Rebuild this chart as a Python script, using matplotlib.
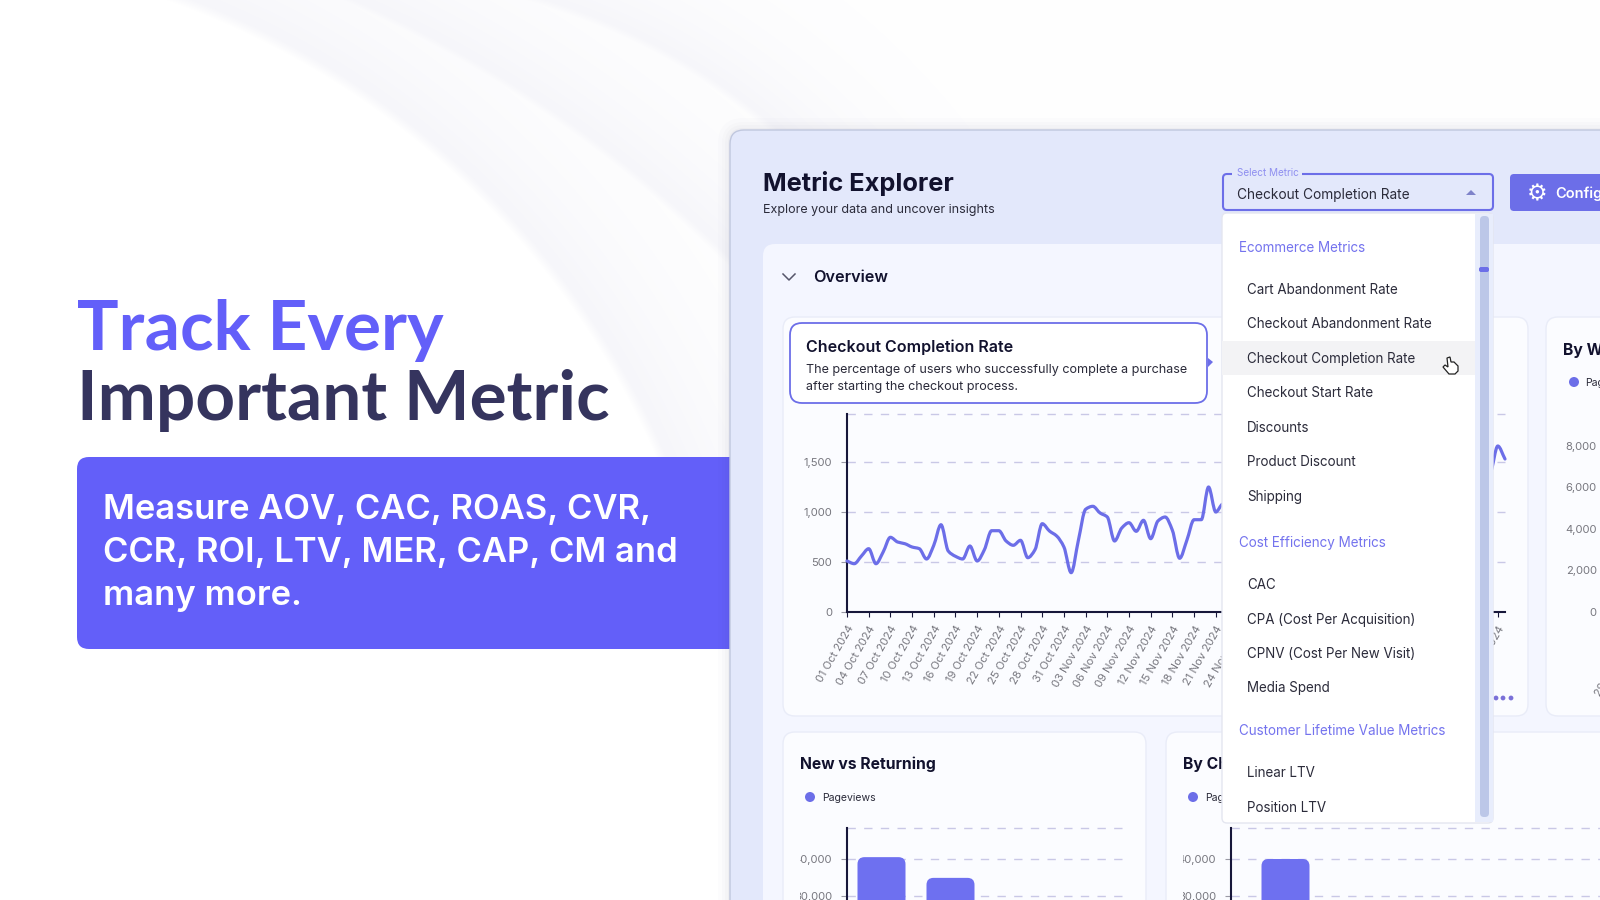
import numpy as np
import matplotlib
matplotlib.use("Agg")
import matplotlib.pyplot as plt
from matplotlib.patches import FancyBboxPatch, Polygon, Circle, PathPatch, Rectangle
from matplotlib.path import Path
from matplotlib.transforms import Bbox, TransformedBbox

W, H = 1600, 900

PURPLE = "#635ff9"
NAVY = "#35345e"
INK = "#12122e"
TEXT = "#2b2b3a"
GREY = "#77777f"
SERIES = "#6c6ee8"
BAR = "#6e70f0"
GRID = "#c9c8e6"
AXIS = "#17173a"

# checkout completion rate, daily (the part behind the dropdown is a guess)
daily_rate = [510, 483, 560, 633, 483, 600, 747, 700, 683, 650, 633, 530, 667, 873, 610, 557,
              530, 660, 510, 623, 813, 813, 710, 667, 717, 543, 623, 883, 810, 760, 650, 393,
              717, 1027, 1057, 990, 950, 710, 840, 893, 807, 917, 733, 910, 950, 817, 537, 717,
              923, 923, 1250, 1000,
              1080, 940, 1010, 860, 980, 1120, 1040, 900, 1150, 1230, 1090, 970, 1180, 1300, 1210,
              1060, 990, 1140, 1260, 1190, 1050, 1170, 1320, 1240, 1100, 1020, 1160, 1290, 1350,
              1200, 1110, 1230, 1380, 1280, 1150, 1210, 1340,
              1400, 1660, 1530]
date_ticks = ["01 Oct 2024", "04 Oct 2024", "07 Oct 2024", "10 Oct 2024", "13 Oct 2024", "16 Oct 2024",
              "19 Oct 2024", "22 Oct 2024", "25 Oct 2024", "28 Oct 2024", "31 Oct 2024", "03 Nov 2024",
              "06 Nov 2024", "09 Nov 2024", "12 Nov 2024", "15 Nov 2024", "18 Nov 2024", "21 Nov 2024",
              "24 Nov 2024", "27 Nov 2024", "30 Nov 2024", "03 Dec 2024", "06 Dec 2024", "09 Dec 2024",
              "12 Dec 2024", "15 Dec 2024", "18 Dec 2024", "21 Dec 2024", "24 Dec 2024", "27 Dec 2024",
              "30 Dec 2024"]
rate_ticks = [0, 500, 1000, 1500]

week_ticks = [0, 2000, 4000, 6000, 8000]
week_first_label = "29 Sep 2024"

new_returning = [40500, 34900]
by_channel = [40000]
page_ticks = [30000, 40000]

ecommerce = ["Cart Abandonment Rate", "Checkout Abandonment Rate", "Checkout Completion Rate",
             "Checkout Start Rate", "Discounts", "Product Discount", "Shipping"]
ecommerce_y = [289, 323, 358, 392, 427, 461, 496]
cost = ["CAC", "CPA (Cost Per Acquisition)", "CPNV (Cost Per New Visit)", "Media Spend"]
cost_y = [584, 619, 653, 687]
ltv = ["Linear LTV", "Position LTV"]
ltv_y = [772, 807]

TICK_PX = 11.2


def px(size):
    return size * 0.72


def label(ax, x, y, s, size, color=TEXT, weight="normal", family="Inter", **kw):
    return ax.text(x, y, s, fontsize=px(size), color=color, fontweight=weight, family=family,
                   va=kw.pop("va", "baseline"), ha=kw.pop("ha", "left"), **kw)


def card(ax, x0, y0, x1, y1, r, fc, ec="none", lw=1.0, z=1):
    p = FancyBboxPatch((x0, y0), x1 - x0, y1 - y0, boxstyle=f"round,pad=0,rounding_size={r}",
                       fc=fc, ec=ec, lw=lw, zorder=z)
    ax.add_patch(p)
    return p


def chart_axes(x0, y0, x1, y1, z=1):
    a = fig.add_axes([x0 / W, 1 - y1 / H, (x1 - x0) / W, (y1 - y0) / H], zorder=z)
    a.patch.set_visible(False)
    for s in ["top", "right"]:
        a.spines[s].set_visible(False)
    for s in ["left", "bottom"]:
        a.spines[s].set_color(AXIS)
        a.spines[s].set_linewidth(1.5)
    return a


def dashed(a, ticks):
    for t in ticks:
        a.axhline(t, color=GRID, lw=1.0, dashes=(6, 6), zorder=0, clip_on=False)


def monotone_path(xs, ys):
    # same smoothing the dashboard uses: monotone cubic between the points
    xs = np.asarray(xs, float)
    ys = np.asarray(ys, float)
    d = np.diff(ys) / np.diff(xs)
    m = np.zeros(len(ys))
    for i in range(1, len(ys) - 1):
        if d[i - 1] * d[i] > 0:
            m[i] = 2 * d[i - 1] * d[i] / (d[i - 1] + d[i])
    m[0], m[-1] = d[0], d[-1]
    verts = [(xs[0], ys[0])]
    codes = [Path.MOVETO]
    for i in range(len(xs) - 1):
        h = (xs[i + 1] - xs[i]) / 3
        verts += [(xs[i] + h, ys[i] + m[i] * h), (xs[i + 1] - h, ys[i + 1] - m[i + 1] * h), (xs[i + 1], ys[i + 1])]
        codes += [Path.CURVE4] * 3
    return Path(verts, codes)


def rounded_bar(a, x, width, value, r_px, px_per_x, px_per_y):
    r = r_px / px_per_x
    a.add_patch(FancyBboxPatch((x - width / 2, 0), width, value, boxstyle=f"round,pad=0,rounding_size={r}",
                               mutation_aspect=px_per_x / px_per_y, fc=BAR, ec="none", zorder=2))


fig = plt.figure(figsize=(16, 9), dpi=100, facecolor="white")

bg = fig.add_axes([0, 0, 1, 1], zorder=0)
bg.set_xlim(0, W)
bg.set_ylim(H, 0)
bg.axis("off")

# soft arcs behind everything
yy, xx = np.mgrid[0:H, 0:W]
shade = np.zeros((H, W))
for cx, cy, r, fade, min_x in [(-113, 790, 838, 80, 0), (-149, 1137, 1234, 75, 0), (363, 599, 617, 65, 450)]:
    d = np.hypot(xx - cx, yy - cy) - r
    ramp = np.clip(d / 10, 0, 1) * np.exp(-np.maximum(d, 0) / fade)
    ramp[xx < min_x] = 0
    shade = np.maximum(shade, ramp)
shade[yy > 470] = 0
art = np.ones((H, W, 3))
art[..., 0] -= shade * 0.040
art[..., 1] -= shade * 0.040
art[..., 2] -= shade * 0.022
bg.imshow(art, extent=(0, W, H, 0), aspect="auto", zorder=0, interpolation="nearest")
bg.set_xlim(0, W)
bg.set_ylim(H, 0)

# left copy
label(bg, 77, 350, "Track Every", 69.4, color=PURPLE, weight="bold", family="Lato", zorder=3)
label(bg, 77, 420, "Important Metric", 69.4, color=NAVY, weight="bold", family="Lato", zorder=3)
card(bg, 77, 457, 760, 649, 12, PURPLE, z=2)
for y, s in zip([519, 562, 605], ["Measure AOV, CAC, ROAS, CVR,", "CCR, ROI, LTV, MER, CAP, CM and", "many more."]):
    label(bg, 103, y, s, 34.6, color="white", weight="semibold", family="Inter", zorder=3)

# app window with a soft shadow
for grow, a in [(12, 0.012), (8, 0.015), (5, 0.02), (2, 0.03)]:
    p = card(bg, 730 - grow, 130 - grow, 1640, 940, 14 + grow, "#3a3a60", z=4)
    p.set_alpha(a)
card(bg, 730, 130, 1640, 940, 14, "#e3e8fb", ec="#c0c7de", lw=1.0, z=5)
label(bg, 763, 191, "Metric Explorer", 25.4, color=INK, weight="bold", zorder=6)
label(bg, 763, 213, "Explore your data and uncover insights", 12.5, color=TEXT, zorder=6)

card(bg, 1510, 174, 1640, 211, 4, SERIES, z=6)
label(bg, 1537, 200, "\u2699", 23, color="white", family="DejaVu Sans", ha="center", zorder=7)
label(bg, 1555, 198, "Configure", 14.6, color="white", weight="semibold", zorder=7)

card(bg, 763, 244, 1640, 940, 12, "#f4f6ff", z=6)
bg.plot([783, 789, 795], [274, 280, 274], color="#55556a", lw=1.1, zorder=7)
label(bg, 813, 282, "Overview", 16.2, color=INK, weight="semibold", zorder=7)

# cards
card(bg, 783, 317, 1528, 716, 12, "#fbfcff", ec="#e9ecf8", z=7)
card(bg, 1546, 317, 1660, 716, 12, "#fbfcff", ec="#e9ecf8", z=7)
card(bg, 783, 732, 1146, 950, 12, "#fbfcff", ec="#e9ecf8", z=7)
card(bg, 1166, 732, 1660, 950, 12, "#fbfcff", ec="#e9ecf8", z=7)

label(bg, 1563, 355, "By Week", 15.7, color=INK, weight="bold", zorder=8)
bg.add_patch(Circle((1574, 382), 5, fc=SERIES, ec="none", zorder=8))
label(bg, 1585, 386, "Pageviews", 10.5, color=TEXT, zorder=8)
label(bg, 800, 769, "New vs Returning", 15.7, color=INK, weight="bold", zorder=8)
bg.add_patch(Circle((810, 797), 5, fc=SERIES, ec="none", zorder=8))
label(bg, 822, 801, "Pageviews", 10.5, color=TEXT, zorder=8)
label(bg, 1183, 769, "By Channel", 15.7, color=INK, weight="bold", zorder=8)
bg.add_patch(Circle((1193, 797), 5, fc=SERIES, ec="none", zorder=8))
label(bg, 1205, 801, "Pageviews", 10.5, color=TEXT, zorder=8)
for x in [1496, 1503, 1511]:
    bg.add_patch(Circle((x, 698), 2.4, fc="#7a70d8", ec="none", zorder=8))

# main line chart
ax = chart_axes(847, 414, 1505, 612)
ax.set_xlim(0, 91)
ax.set_ylim(0, 1980)
days = np.arange(len(daily_rate))
ax.add_patch(PathPatch(monotone_path(days, daily_rate), fc="none", ec=SERIES, lw=2.3, zorder=3,
                       capstyle="round", joinstyle="round", clip_on=False))
dashed(ax, rate_ticks[1:] + [1980])
ax.set_yticks(rate_ticks)
ax.set_yticklabels([f"{v:,}" for v in rate_ticks])
ax.set_xticks(np.arange(0, 91, 3))
ax.set_xticklabels(date_ticks, rotation=60, ha="right", rotation_mode="anchor")
ax.tick_params(axis="y", length=4.3, width=0.8, color="#9a9aa5", pad=6.5, labelsize=px(TICK_PX), labelcolor=GREY, labelfontfamily="Inter")
ax.tick_params(axis="x", length=3.6, width=0.8, color=AXIS, pad=5, labelsize=px(TICK_PX), labelcolor=GREY, labelfontfamily="Inter")

# by week, only the tick labels fit on the picture
ax_week = chart_axes(1612, 414, 1900, 612)
ax_week.set_xlim(0, 10)
ax_week.set_ylim(0, 9540)
ax_week.spines["left"].set_visible(False)
ax_week.spines["bottom"].set_visible(False)
ax_week.set_yticks(week_ticks)
ax_week.set_yticklabels([f"{v:,}" for v in week_ticks])
ax_week.set_xticks([0.55])
ax_week.set_xticklabels([week_first_label], rotation=60, ha="right", rotation_mode="anchor")
ax_week.tick_params(axis="y", length=0, pad=11, labelsize=px(TICK_PX), labelcolor=GREY, labelfontfamily="Inter")
ax_week.tick_params(axis="x", length=0, pad=16, labelsize=px(TICK_PX), labelcolor=GREY, labelfontfamily="Inter")

# lower bar charts, cut off by the bottom of the picture
y_scale = 37 / 10000
y_top = 48378
for x0, x1, slot_px, values, clip_left in [(847, 1123, 69, new_returning, 800), (1231, 1640, 109, by_channel, 1183)]:
    a = chart_axes(x0, 828, x1, 1007)
    a.set_ylim(0, y_top)
    a.set_xlim(0, (x1 - x0) / slot_px)
    for i, v in enumerate(values):
        rounded_bar(a, i + 0.5, 48 / slot_px, v, 7, slot_px, y_scale)
    dashed(a, page_ticks + [y_top])
    a.spines["bottom"].set_visible(False)
    a.set_xticks([])
    a.set_yticks(page_ticks)
    a.set_yticklabels([f"{v:,}" for v in page_ticks])
    a.tick_params(axis="y", length=4.3, width=0.8, color="#9a9aa5", pad=6.5, labelsize=px(TICK_PX), labelcolor=GREY, labelfontfamily="Inter")
    box = TransformedBbox(Bbox([[clip_left, 0], [W, H]]), bg.transData)
    for t in a.get_yticklabels():
        t.set_clip_box(box)
        t.set_clip_on(True)

# everything floating above the charts
top = fig.add_axes([0, 0, 1, 1], zorder=5)
top.set_xlim(0, W)
top.set_ylim(H, 0)
top.axis("off")
top.patch.set_visible(False)

card(top, 790, 323, 1207, 403, 12, "white", ec=SERIES, lw=1.3, z=2)
top.add_patch(Polygon([(1208, 358), (1213, 362), (1208, 367)], fc=SERIES, ec="none", zorder=2))
label(top, 806, 352, "Checkout Completion Rate", 16, color=INK, weight="semibold", zorder=3)
label(top, 806, 373, "The percentage of users who successfully complete a purchase", 12.6, color=TEXT, zorder=3)
label(top, 806, 390, "after starting the checkout process.", 12.6, color=TEXT, zorder=3)

# select box
card(top, 1223, 174, 1493, 210, 4, "#e3e8fb", ec=SERIES, lw=1.5, z=2)
top.add_patch(Rectangle((1232, 170), 70, 8, fc="#e3e8fb", ec="none", zorder=3))
label(top, 1237, 176, "Select Metric", 10, color="#8f8ff0", zorder=4)
label(top, 1237, 199, "Checkout Completion Rate", 13.7, color=TEXT, zorder=4)
top.add_patch(Polygon([(1466, 195), (1471, 190), (1476, 195)], fc="#7f83c9", ec="none", zorder=4))

# dropdown menu
card(top, 1222, 213, 1493, 823, 5, "white", ec="#e4e6f0", lw=1.0, z=2)
top.add_patch(Rectangle((1475, 214), 18, 608, fc="#e8edfc", ec="none", zorder=3))
card(top, 1480, 216, 1489, 817, 4, "#bcc7e8", z=4)
card(top, 1479, 267, 1489, 272, 2, SERIES, z=5)
top.add_patch(Rectangle((1222, 341), 253, 34, fc="#f3f3f5", ec="none", zorder=3))
for y, s in [(252, "Ecommerce Metrics"), (547, "Cost Efficiency Metrics"), (735, "Customer Lifetime Value Metrics")]:
    label(top, 1239, y, s, 13.5, color="#7473ee", zorder=4)
for names, ys in [(ecommerce, ecommerce_y), (cost, cost_y), (ltv, ltv_y)]:
    for s, y in zip(names, ys):
        label(top, 1247, y + 5, s, 13.4, color=TEXT, zorder=4)

# hand cursor
hand = [(1447, 358), (1450, 357), (1451, 362), (1454, 362), (1456, 364), (1458, 366), (1458, 371),
        (1455, 374), (1449, 374), (1443, 367), (1445, 365), (1448, 367)]
top.add_patch(Polygon(hand, fc="white", ec="#222222", lw=0.9, zorder=6))

fig.savefig("out.png", dpi=100)
